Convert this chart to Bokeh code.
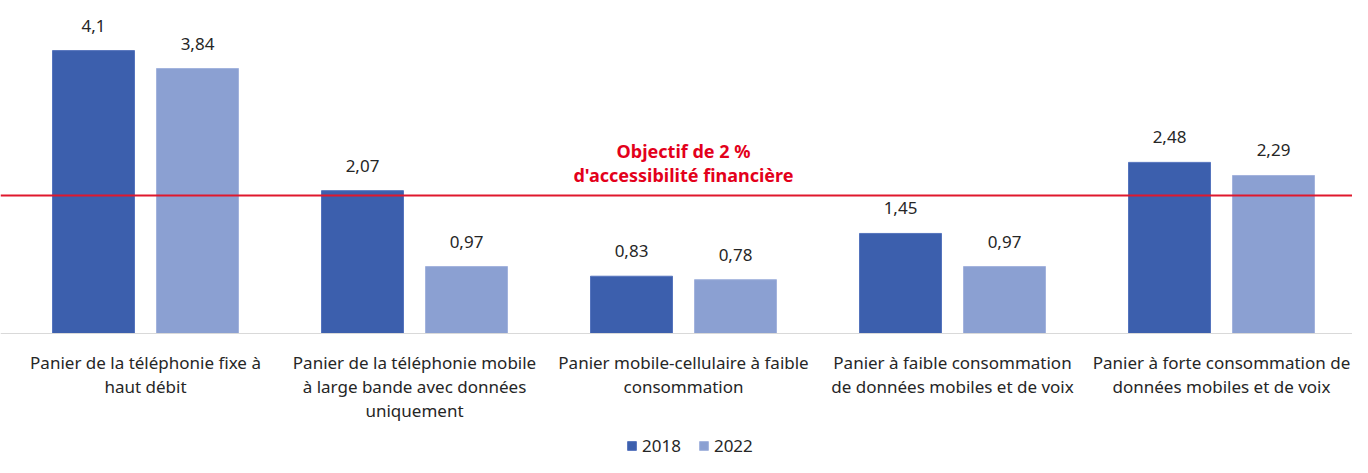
from bokeh.plotting import figure
from bokeh.models import Range1d, Span, ColumnDataSource, Legend, LegendItem
from bokeh.core.properties import value
from bokeh.embed import file_html
from bokeh.resources import INLINE

categories = [
    "Panier de la téléphonie fixe à\nhaut débit",
    "Panier de la téléphonie mobile\nà large bande avec données\nuniquement",
    "Panier mobile-cellulaire à faible\nconsommation",
    "Panier à faible consommation\nde données mobiles et de voix",
    "Panier à forte consommation de\ndonnées mobiles et de voix",
]
series_names = ["2018", "2022"]
values_2018 = [4.1, 2.07, 0.83, 1.45, 2.48]
values_2022 = [3.84, 0.97, 0.78, 0.97, 2.29]
target = 2.0
target_label = "Objectif de 2 %\nd'accessibilité financière"

FONT = "Noto Sans"
C2018 = "#3c5fad"
C2022 = "#8ba0d2"

W, H = 1352, 457
XS = 269.0   # px per category
YS = 69.0    # px per unit
p = figure(width=W, height=H, output_backend="svg", toolbar_location=None,
           min_border=0, min_border_left=0, min_border_right=0,
           min_border_top=0, min_border_bottom=0)
x0 = 0.5 - 145 / XS
p.x_range = Range1d(x0, x0 + W / XS)
top = 333 / YS
p.y_range = Range1d(top - H / YS, top)
p.axis.visible = False
p.grid.visible = False
p.outline_line_color = None
p.background_fill_color = "white"
p.border_fill_color = "white"

n = len(categories)
xc = [i + 0.5 for i in range(n)]
bw = 82 / XS
off = 52 / XS
src = ColumnDataSource(dict(
    xc=xc,
    x18=[x - off for x in xc],
    x22=[x + off for x in xc],
    v18=values_2018,
    v22=values_2022,
    l18=[str(v).replace(".", ",") for v in values_2018],
    l22=[str(v).replace(".", ",") for v in values_2022],
    cat=categories,
))

# baseline
p.add_layout(Span(location=0, dimension="width", line_color="#d9d9d9", line_width=1))

r18 = p.vbar(x="x18", top="v18", bottom=0, width=bw, source=src,
             fill_color=C2018, line_color="#5574bd", line_width=1)
r22 = p.vbar(x="x22", top="v22", bottom=0, width=bw, source=src,
             fill_color=C2022, line_color="#a3b3dd", line_width=1)

# target line
p.add_layout(Span(location=target, dimension="width", line_color="#e0182d", line_width=2))

# value labels
for xk, vk, lk in (("x18", "v18", "l18"), ("x22", "v22", "l22")):
    p.text(x=xk, y=vk, text=lk, source=src, text_align="center", text_baseline="middle",
           y_offset=-25, text_font=value(FONT), text_font_size="17px", text_color="#262626")

# category labels
p.text(x="xc", y=0, text="cat", source=src, text_align="center", text_baseline="top",
       y_offset=17, text_font=value(FONT), text_font_size="17px", text_color="#262626",
       text_line_height=1.05)

# target label
p.text(x=[2.5], y=[target], text=[target_label], text_align="center", text_baseline="bottom",
       y_offset=-9, text_font=value(FONT), text_font_size="18px", text_font_style="bold",
       text_color="#e3001b", text_line_height=1.0)

legend = Legend(items=[LegendItem(label=series_names[0], renderers=[r18]),
                       LegendItem(label=series_names[1], renderers=[r22])],
                orientation="horizontal", location=(626, 0),
                glyph_width=11, glyph_height=11, spacing=17, padding=2, margin=0,
                label_text_font=FONT, label_text_font_size="17px", label_text_color="#262626",
                label_standoff=5, border_line_color=None, background_fill_alpha=0)
p.add_layout(legend)

open("out.html", "w").write(file_html(p, INLINE))
